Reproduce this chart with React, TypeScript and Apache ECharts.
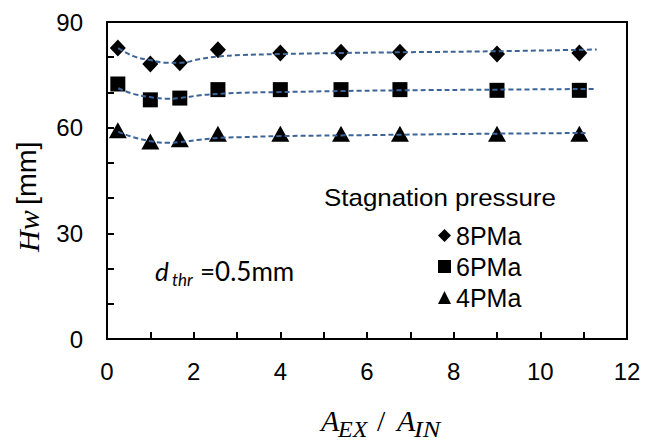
import React, { useEffect, useRef } from "react";
import * as echarts from "echarts";

// measured data points
const areaRatio = [0.25, 1.0, 1.68, 2.56, 4.0, 5.4, 6.76, 9.0, 10.9];
const hw8 = [82.6, 78.1, 78.4, 82.1, 81.2, 81.4, 81.4, 80.9, 81.2];
const hw6 = [72.4, 67.9, 68.4, 70.8, 70.8, 70.8, 70.8, 70.6, 70.6];
const hw4 = [59.3, 56.1, 56.7, 58.3, 58.3, 58.3, 58.3, 58.3, 58.3];

// dashed trend curves
const trendX8 = [0.26, 0.61, 0.99, 1.38, 1.68, 2.15, 2.57, 3.07, 4.0, 5.4, 6.76, 9.0, 11.3];
const trendY8 = [82.6, 80.3, 79.2, 78.4, 78.4, 79.5, 80.2, 80.6, 80.9, 81.2, 81.4, 81.7, 82.2];
const trendX6 = [0.26, 0.61, 0.99, 1.38, 1.68, 2.15, 2.57, 3.07, 4.0, 5.4, 6.76, 9.0, 11.27];
const trendY6 = [71.2, 69.6, 68.7, 68.2, 68.4, 69.2, 69.6, 69.9, 70.1, 70.4, 70.6, 70.8, 71.0];
const trendX4 = [0.26, 0.61, 0.99, 1.38, 1.68, 2.15, 2.57, 3.07, 4.0, 5.4, 6.76, 9.0, 11.1];
const trendY4 = [58.8, 57.3, 56.2, 55.7, 55.9, 56.6, 57.1, 57.3, 57.6, 57.8, 58.0, 58.3, 58.5];

const seriesNames = ["8PMa", "6PMa", "4PMa"];
const legendTitle = "Stagnation pressure";

const zip = (xs: number[], ys: number[]) => xs.map((x, i) => [x, ys[i]]);

const SANS = '"Liberation Sans", Arial, sans-serif';
const SERIF = '"Liberation Serif", "Times New Roman", serif';
const CAL = 'Lato, "Open Sans", sans-serif';
const TREND = "#3E6497";

export default function App() {
  const ref = useRef<HTMLDivElement>(null);
  useEffect(() => {
    if (!ref.current) return;
    const chart = echarts.init(ref.current, null, { renderer: "svg" });
    const scatter = (name: string, ys: number[], symbol: string, size: number[]) => ({
      name,
      type: "scatter",
      data: zip(areaRatio, ys),
      symbol,
      symbolSize: size,
      itemStyle: { color: "#000", opacity: 1 },
      z: 2,
    });
    const trend = (xs: number[], ys: number[]) => ({
      type: "line",
      data: zip(xs, ys),
      smooth: 0.4,
      showSymbol: false,
      symbol: "none",
      lineStyle: { color: TREND, width: 2, type: [5, 3] },
      z: 3,
    });
    chart.setOption({
      animation: false,
      backgroundColor: "#fff",
      grid: {
        left: 107,
        right: 19,
        top: 22,
        bottom: 107,
        show: true,
        borderColor: "#000",
        borderWidth: 2,
      },
      xAxis: {
        type: "value",
        min: 0,
        max: 12,
        interval: 2,
        axisLine: { show: true, lineStyle: { color: "#000", width: 2 } },
        axisTick: { show: true, inside: true, length: 7, lineStyle: { color: "#000", width: 2 } },
        minorTick: { show: true, splitNumber: 2, length: 7, lineStyle: { color: "#000", width: 2 } },
        splitLine: { show: false },
        axisLabel: { fontSize: 24, fontFamily: SANS, color: "#000", margin: 20 },
      },
      yAxis: {
        type: "value",
        min: 0,
        max: 90,
        interval: 30,
        axisLine: { show: true, lineStyle: { color: "#000", width: 2 } },
        axisTick: { show: true, inside: true, length: 7, lineStyle: { color: "#000", width: 2 } },
        minorTick: { show: true, splitNumber: 3, length: 7, lineStyle: { color: "#000", width: 2 } },
        splitLine: { show: false },
        axisLabel: { fontSize: 24, fontFamily: SANS, color: "#000", margin: 24 },
      },
      legend: {
        orient: "vertical",
        left: 433,
        top: 218,
        padding: 5,
        itemWidth: 13,
        itemHeight: 13,
        itemGap: 6,
        textStyle: { fontSize: 25, fontFamily: SANS, color: "#000" },
        data: [
          { name: seriesNames[0], icon: "diamond" },
          { name: seriesNames[1], icon: "rect" },
          { name: seriesNames[2], icon: "triangle" },
        ],
      },
      series: [
        trend(trendX8, trendY8),
        trend(trendX6, trendY6),
        trend(trendX4, trendY4),
        scatter(seriesNames[0], hw8, "diamond", [16, 17]),
        scatter(seriesNames[1], hw6, "rect", [15, 15]),
        scatter(seriesNames[2], hw4, "triangle", [18, 16]),
      ],
      graphic: [
        {
          type: "text",
          x: 324,
          y: 197,
          scaleX: 1.08,
          style: { text: legendTitle, fontSize: 24, fontFamily: SANS, fill: "#000", verticalAlign: "middle" },
        },
        // d_thr = 0.5mm
        {
          type: "text",
          x: 155,
          y: 271,
          style: { text: "d", fontSize: 26, fontStyle: "italic", fontFamily: CAL, fill: "#000", verticalAlign: "middle" },
        },
        {
          type: "text",
          x: 172,
          y: 279,
          style: { text: "thr", fontSize: 17, fontStyle: "italic", fontFamily: CAL, fill: "#000", verticalAlign: "middle" },
        },
        {
          type: "text",
          x: 200,
          y: 271,
          style: { text: "=0.5mm", fontSize: 26, fontFamily: CAL, fill: "#000", verticalAlign: "middle" },
        },
        // x axis title
        {
          type: "text",
          x: 321,
          y: 420,
          style: { text: "A", fontSize: 30, fontStyle: "italic", fontFamily: SERIF, fill: "#000", verticalAlign: "middle" },
        },
        {
          type: "text",
          x: 338,
          y: 429,
          style: { text: "EX", fontSize: 24, fontStyle: "italic", fontFamily: SERIF, fill: "#000", verticalAlign: "middle" },
        },
        {
          type: "text",
          x: 377,
          y: 420,
          style: { text: "/", fontSize: 30, fontFamily: SERIF, fill: "#000", verticalAlign: "middle" },
        },
        {
          type: "text",
          x: 397,
          y: 420,
          style: { text: "A", fontSize: 30, fontStyle: "italic", fontFamily: SERIF, fill: "#000", verticalAlign: "middle" },
        },
        {
          type: "text",
          x: 414,
          y: 429,
          scaleX: 1.1,
          style: { text: "IN", fontSize: 24, fontStyle: "italic", fontFamily: SERIF, fill: "#000", verticalAlign: "middle" },
        },
        // y axis title (rotated)
        {
          type: "group",
          x: 28,
          y: 252,
          rotation: Math.PI / 2,
          children: [
            {
              type: "text",
              x: 0,
              y: 0,
              style: { text: "Hw", fontSize: 30, fontStyle: "italic", fontFamily: SERIF, fill: "#000", verticalAlign: "middle" },
            },
            {
              type: "text",
              x: 47,
              y: -1,
              scaleX: 1.06,
              style: { text: "[mm]", fontSize: 27, fontFamily: SANS, fill: "#000", verticalAlign: "middle" },
            },
          ],
        },
      ],
    });
    return () => chart.dispose();
  }, []);
  return (
    <div
      ref={ref}
      style={{ position: "absolute", left: 0, top: 0, width: 646, height: 446 }}
    />
  );
}
